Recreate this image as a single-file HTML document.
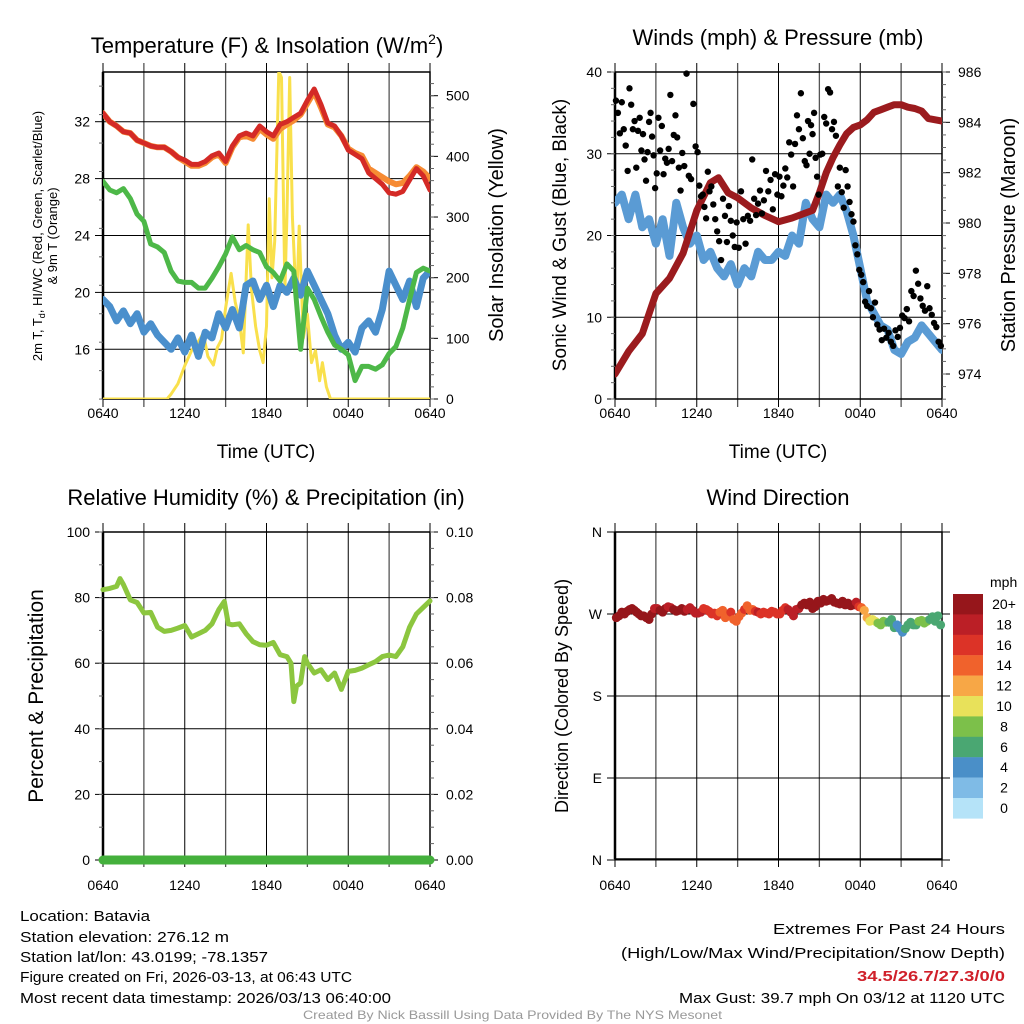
<!DOCTYPE html>
<html><head><meta charset="utf-8"><title>NYS Mesonet Batavia Meteogram</title>
<style>
html,body{margin:0;padding:0;background:#fff;}
svg{display:block;font-family:"Liberation Sans",sans-serif;}
</style></head>
<body>
<svg id="fig" width="1024" height="1024" viewBox="0 0 1024 1024" xmlns="http://www.w3.org/2000/svg">
<defs>
<clipPath id="c1"><rect x="103" y="72" width="327" height="327"/></clipPath>
<clipPath id="c2"><rect x="615" y="72" width="327" height="327"/></clipPath>
</defs>
<text x="267" y="53" font-size="22" text-anchor="middle">Temperature (F) &amp; Insolation (W/m<tspan dy="-9" font-size="14">2</tspan><tspan dy="9">)</tspan></text>
<text x="778" y="45" font-size="22" text-anchor="middle">Winds (mph) &amp; Pressure (mb)</text>
<text x="266" y="505" font-size="22" text-anchor="middle">Relative Humidity (%) &amp; Precipitation (in)</text>
<text x="778" y="505" font-size="22" text-anchor="middle">Wind Direction</text>
<text transform="translate(42,236) rotate(-90)" font-size="13" text-anchor="middle">2m T, T<tspan dy="3" font-size="9">d</tspan><tspan dy="-3">, HI/WC (Red, Green, Scarlet/Blue)</tspan></text>
<text transform="translate(57,236) rotate(-90)" font-size="13" text-anchor="middle">&amp; 9m T (Orange)</text>
<text transform="translate(503,235) rotate(-90)" font-size="20" text-anchor="middle">Solar Insolation (Yellow)</text>
<text transform="translate(566,235) rotate(-90)" font-size="19" text-anchor="middle">Sonic Wind &amp; Gust (Blue, Black)</text>
<text transform="translate(1015,235) rotate(-90)" font-size="20" text-anchor="middle">Station Pressure (Maroon)</text>
<text transform="translate(43,696) rotate(-90)" font-size="21" text-anchor="middle">Percent &amp; Precipitation</text>
<text transform="translate(568,696) rotate(-90)" font-size="18" text-anchor="middle">Direction (Colored By Speed)</text>
<text x="266" y="458" font-size="19" text-anchor="middle">Time (UTC)</text>
<text x="778" y="458" font-size="19" text-anchor="middle">Time (UTC)</text>
<g font-size="15">
<text x="20" y="921" textLength="130" lengthAdjust="spacingAndGlyphs">Location: Batavia</text>
<text x="20" y="942" textLength="209" lengthAdjust="spacingAndGlyphs">Station elevation: 276.12 m</text>
<text x="20" y="962" textLength="248" lengthAdjust="spacingAndGlyphs">Station lat/lon: 43.0199; -78.1357</text>
<text x="20" y="982" textLength="332" lengthAdjust="spacingAndGlyphs">Figure created on Fri, 2026-03-13, at 06:43 UTC</text>
<text x="20" y="1003" textLength="371" lengthAdjust="spacingAndGlyphs">Most recent data timestamp: 2026/03/13 06:40:00</text>
</g>
<g font-size="15">
<text x="773" y="934" textLength="232" lengthAdjust="spacingAndGlyphs">Extremes For Past 24 Hours</text>
<text x="621" y="958" textLength="384" lengthAdjust="spacingAndGlyphs">(High/Low/Max Wind/Precipitation/Snow Depth)</text>
<text x="857" y="981" textLength="148" lengthAdjust="spacingAndGlyphs" fill="#d0202a" font-weight="bold">34.5/26.7/27.3/0/0</text>
<text x="679" y="1003" textLength="326" lengthAdjust="spacingAndGlyphs">Max Gust: 39.7 mph On 03/12 at 1120 UTC</text>
</g>
<text x="303" y="1019" font-size="12" fill="#999" textLength="419" lengthAdjust="spacingAndGlyphs">Created By Nick Bassill Using Data Provided By The NYS Mesonet</text>
<g id="layer"></g>
</svg>
<script>
// ---- data ----
const xTickLabels = ["0640","1240","1840","0040","0640"];
const halfHours = [0,0.5,1,1.5,2,2.5,3,3.5,4,4.5,5,5.5,6,6.5,7,7.5,8,8.5,9,9.5,10,10.5,11,11.5,12,12.5,13,13.5,14,14.5,15,15.5,16,16.5,17,17.5,18,18.5,19,19.5,20,20.5,21,21.5,22,22.5,23,23.5,24];
const tempRed = [32.6,32.0,31.7,31.3,31.2,30.7,30.5,30.3,30.2,30.2,29.9,29.5,29.3,29.0,29.0,29.2,29.6,29.8,29.2,30.3,31.0,31.2,31.0,31.7,31.3,31.0,31.8,32.0,32.3,32.6,33.5,34.3,33.2,31.9,31.7,31.0,30.0,29.7,29.4,28.4,28.0,27.6,27.0,26.9,27.1,27.9,28.7,28.2,27.2];
const temp9m = [32.6,32.0,31.7,31.3,31.2,30.7,30.5,30.3,30.2,30.2,29.9,29.5,29.2,28.9,28.9,29.1,29.5,29.7,29.1,30.2,30.9,31.0,30.8,31.5,31.1,30.8,31.5,31.8,32.1,32.5,33.3,34.1,33.0,31.8,31.6,31.0,30.1,29.8,29.6,28.7,28.4,28.1,27.8,27.6,27.7,28.2,28.8,28.5,28.0];
const dewGreen = [27.8,27.2,27.0,27.3,26.6,25.5,25.0,23.4,23.2,22.8,21.5,20.8,20.7,20.7,20.3,20.3,21.0,21.8,22.7,23.9,23.0,23.3,23.0,22.8,21.8,21.4,20.8,22.0,21.5,16.0,20.3,19.5,18.3,17.2,16.3,16.0,15.6,13.8,14.8,14.8,14.6,14.9,15.7,16.2,17.5,19.5,21.4,21.7,21.5];
const windChill = [19.5,19.0,18.0,18.7,17.8,18.5,17.2,17.8,17.0,16.5,16.0,16.8,15.8,17.0,15.5,17.2,16.8,18.5,17.5,18.8,17.5,20.5,20.8,19.5,20.5,19.0,20.5,20.0,21.0,19.8,21.5,20.5,19.5,18.5,17.0,16.0,16.5,15.8,17.5,18.0,17.2,18.8,21.5,20.5,19.5,20.8,19.0,21.0,21.5];
const solarHours = [0,4.7,5,5.5,6,6.5,7,7.36,7.7,8.1,8.4,8.7,9.0,9.4,9.7,10,10.3,10.66,10.9,11.2,11.5,11.75,12,12.2,12.4,12.6,12.9,13.1,13.35,13.5,13.7,13.9,14.2,14.4,14.7,15,15.3,15.6,15.9,16.1,16.4,16.7,24];
const solarValues = [0,0,8,25,55,80,95,108,70,56,85,98,150,207,160,130,76,287,180,120,80,60,120,330,200,260,540,530,180,300,530,300,150,285,100,140,60,80,30,60,20,0,0];
const windSpeed = [24,25,22,25,21,22,19,22,17.5,24,21,19,20,17,18,16,15,16.5,14,16,15,18,17,17,18,17.5,20,19,24,22,21,25,24,25,23,20,16,12,10.5,9,8.5,6,5.5,7,7.5,9,8,7,6];
const pressureHours = [0,1,2,3,4,5,6,7,7.6,8.3,9,10,11,12,13,14,14.5,15,15.5,16,16.5,17,17.5,18,18.5,19,19.5,20,20.5,21,21.5,22,22.5,23,23.5,24];
const pressureValues = [974.0,974.9,975.6,977.2,977.8,978.8,980.5,981.6,981.8,981.2,981.0,980.6,980.3,980.05,980.2,980.4,980.5,981.2,982.0,982.6,983.1,983.55,983.8,983.9,984.1,984.4,984.5,984.6,984.7,984.7,984.6,984.55,984.45,984.15,984.1,984.05];
const gustByHour = [
 [36.5,35,32.5,36.3,33,31,27.9],[38,36,33,34,28.3,32.8,34.4,30.4],[32.4,29.3,26.7,30.2,33.9,35,32.1,29.8,25.8],
 [27.6,34.4,30.4,33.4,27.5,29.4,28.9,30.6],[37.2,29.1,32.3,34.7,32.0,28.3,25.5,30.1],[28.5,39.8,27.3,26.9,36.1,30.9],
 [30.2,26.1,24.8,25.0,23.5,22.1,27.8,25.4],[26.0,23.8,22.0,20.5,19.3,17.0,24.5],[22.4,19.2,23.6,21.8,20.0,18.6,21.6],
 [18.5,25.4,22.0,19.0,22.4,21.8],[29.3,24.5,22.5,23.9,25.5,22.7,24.3],[27.9,25.4,26.8,23.2,27.5,25.0],
 [27.2,24.8,26.1,28.2,27.1,31.4,29.9],[26.0,31.2,34.7,33.0,37.4,31.9,29.1],[28.6,34.0,30.0,33.5,32.4,35.0,29.5,27.2,25.0],
 [29.9,30.0,34.5,33.7,37.9,37.5,33.0],[33.9,32.2,26.0,28.3,25.3,23.4,28.0],[26.0,24.1,22.6,21.7,18.8,17.7,15.8],
 [15.2,14.3,11.9,11.4,13.2,11.1,10.0],[11.8,9.1,8.5,7.2,8.6,7.5],[8.1,7.0,6.5,8.4,7.6,8.7],
 [10.2,9.9,11.0,9.5,13.2,12.6],[15.7,14.1,12.3,11.4,10.8,13.8],[11.1,10.3,9.3,8.8,7.0,6.5]];
const rhHours = [0,0.5,1,1.25,1.5,2,2.5,3,3.5,4,4.5,5,5.5,6,6.5,7,7.5,8,8.5,8.9,9.2,9.5,10,10.5,11,11.5,12,12.5,13,13.5,13.8,14,14.2,14.5,14.8,15,15.5,16,16.5,17,17.5,18,18.5,19,19.5,20,20.5,21,21.5,22,22.5,23,23.5,24];
const rhValues = [82.4,82.8,83.4,85.8,84,79.3,78.5,75.3,75.5,71,69.7,70,70.7,71.5,68,69,70,72,76.3,78.8,72,71.7,72,69,66.6,65.6,65.5,66.3,62.6,62,60,48.3,53,54,62,60,57,58,55,57,52,57.5,57.8,58.5,59.5,60.5,62,62.5,62,65,71,75,77,79];
const precipHours = [0,24];
const precipValues = [0,0];
const dirByHour = [
 [266,268,272,270,273],[275,276,274,272,270,268],[268,266,264,270,276],[276,274,272,276,278],
 [277,275,273,274,276],[273,275,277,274,271],[271,272,276,275,273],[270,271,268,272,274],
 [266,269,272,264,262],[267,271,275,279,274],[275,273,272,270,272],[271,270,273,272,270],
 [270,274,277,275,272],[268,275,276,280,282],[280,283,276,278,284],[282,286,284,285,287],
 [283,282,281,284,280],[282,279,280,283,278],[277,274,266,262,264],[262,260,258,262,261],
 [261,264,255,258,254],[250,254,258,261,258],[258,262,263,260,262],[264,267,262,268,258]];
const speedBinLabels = ["20+","18","16","14","12","10","8","6","4","2","0"];
const speedBinColors = ["#96161b","#bb1f26","#dc3327","#f0622c","#f7a746","#e8e15a","#7cc04a","#4aa772","#4a8fc8","#7fbbe6","#b5e3f8"];
const dirLabels = ["N","E","S","W","N"];

// ---- helpers ----
const NS="http://www.w3.org/2000/svg";
const layer=document.getElementById('layer');
function el(tag,attrs,parent){const e=document.createElementNS(NS,tag);for(const k in attrs)e.setAttribute(k,attrs[k]);(parent||layer).appendChild(e);return e;}
function linScale(d0,d1,r0,r1){return v=>r0+(v-d0)*(r1-r0)/(d1-d0);}
function interp(xs,ys,t){for(let i=1;i<xs.length;i++){if(t<=xs[i]){const f=(t-xs[i-1])/(xs[i]-xs[i-1]);return ys[i-1]+f*(ys[i]-ys[i-1]);}}return ys[ys.length-1];}

function drawFrame(x0,y0,name,labOff){
  const g=el('g',{});
  
  
  const xs=linScale(0,24,x0,x0+327);
  for(let h=0;h<=24;h+=3){
    const x=xs(h);
    const gl=el('line',{x1:x,x2:x,y1:y0-9,y2:y0+335,stroke:(h%6===0)?'#000':'#555','stroke-width':(h%6===0)?1:1.3},g);
    
    
  }
  for(let i=0;i<xTickLabels.length;i++){
    const t=el('text',{x:xs(i*6),y:y0+labOff,'font-size':14,'text-anchor':'middle'},g);
    t.textContent=xTickLabels[i];
    
    
  }
  el('rect',{x:x0,y:y0,width:327,height:327,fill:'none',stroke:'#000','stroke-width':1.5},g);
  el('line',{x1:x0,x2:x0,y1:y0,y2:y0+327,stroke:'#000','stroke-width':2.5},g);
  return g;
}
function hAxis(g,x0,vals,scale,labels,side,grid,minorStep,range){
  const top=+g.getAttribute('data-top');
  vals.forEach((v,i)=>{
    const y=scale(v);
    if(grid) el('line',{x1:x0,x2:x0+327,y1:y,y2:y,stroke:'#000','stroke-width':1},g);
    if(side==='left'){
      el('line',{x1:x0-8,x2:x0,y1:y,y2:y,stroke:'#000'},g);
      const t=el('text',{x:x0-13,y:y+5,'font-size':14,'text-anchor':'end'},g);t.textContent=labels[i];
      
      
    }else{
      el('line',{x1:x0+327,x2:x0+335,y1:y,y2:y,stroke:'#000'},g);
      if(labels){const t=el('text',{x:x0+343,y:y+5,'font-size':14,'text-anchor':'start'},g);t.textContent=labels[i];
      
      }
    }
  });
  if(minorStep){
    for(let v=range[0];v<=range[1]+1e-9;v+=minorStep){
      const y=scale(v); if(y<top-0.5) continue;
      if(side==='left') el('line',{x1:x0-4,x2:x0,y1:y,y2:y,stroke:'#666'},g);
      else el('line',{x1:x0+327,x2:x0+331,y1:y,y2:y,stroke:'#666'},g);
    }
  }
}
function polyline(xs,ys,xScale,yScale,color,w,clip,name){
  const pts=xs.map((t,i)=>xScale(t).toFixed(1)+','+yScale(ys[i]).toFixed(1)).join(' ');
  const p=el('polyline',{points:pts,fill:'none',stroke:color,'stroke-width':w,'stroke-linejoin':'round','stroke-linecap':'round','clip-path':clip?'url(#'+clip+')':''});
  
  
  return p;
}

// ---- panel 1: temperature ----
{
  const g=drawFrame(103,72,'temperature',346);g.setAttribute('data-top',72);
  const xS=linScale(0,24,103,430);
  const yT=linScale(16,32,349.3,121.7);
  const yS=linScale(0,500,399,95.7);
  hAxis(g,103,[16,20,24,28,32],yT,["16","20","24","28","32"],'left',true,2,[12.5,35]);
  hAxis(g,103,[0,100,200,300,400,500],yS,["0","100","200","300","400","500"],'right',false,20,[0,539]);
  polyline(solarHours,solarValues,xS,yS,'#f9e04c',3,'c1','solar-insolation-line');
  polyline(halfHours,windChill,xS,yT,'#4a8fcc',7,'c1','wind-chill-line');
  polyline(halfHours,dewGreen,xS,yT,'#4db848',5,'c1','dewpoint-line');
  polyline(halfHours,temp9m,xS,yT,'#f68b33',6,'c1','temp-9m-line');
  polyline(halfHours,tempRed,xS,yT,'#d42a26',5,'c1','temp-2m-line');
}
// ---- panel 2: winds ----
{
  const g=drawFrame(615,72,'winds',346);g.setAttribute('data-top',72);
  const xS=linScale(0,24,615,942);
  const yW=linScale(0,40,399,72);
  const yP=linScale(974,986,374,72);
  hAxis(g,615,[0,10,20,30,40],yW,["0","10","20","30","40"],'left',true,2,[0,40]);
  hAxis(g,615,[974,976,978,980,982,984,986],yP,["974","976","978","980","982","984","986"],'right',false,0.5,[973,986]);
  polyline(halfHours,windSpeed,xS,yW,'#5a9bd4',8,'c2','wind-speed-line');
  polyline(pressureHours,pressureValues,xS,yP,'#9b1b1e',7,'c2','pressure-line');
  gustByHour.forEach((arr,h)=>{arr.forEach((v,j)=>{
    const t=h+(j+0.5)/arr.length;
    const c=el('circle',{cx:xS(t),cy:yW(v),r:3.2,fill:'#000'});
    
    
  });});
}
// ---- panel 3: humidity ----
{
  const g=drawFrame(103,532,'humidity',358);g.setAttribute('data-top',532);
  const xS=linScale(0,24,103,430);
  const yR=linScale(0,100,860,532);
  const yPr=linScale(0,0.1,860,532);
  hAxis(g,103,[0,20,40,60,80,100],yR,["0","20","40","60","80","100"],'left',true,10,[0,100]);
  hAxis(g,103,[0,0.02,0.04,0.06,0.08,0.1],yPr,["0.00","0.02","0.04","0.06","0.08","0.10"],'right',false,0.005,[0,0.1]);
  polyline(rhHours,rhValues,xS,yR,'#8cc63f',5,null,'relative-humidity-line');
  const pl=polyline(precipHours,precipValues,xS,yPr,'#44b03c',9,null,'precipitation-line');
}
// ---- panel 4: wind direction ----
{
  const g=drawFrame(615,532,'wind-direction',358);g.setAttribute('data-top',532);
  const xS=linScale(0,24,615,942);
  const yD=linScale(0,360,860,532);
  hAxis(g,615,[0,90,180,270,360],yD,dirLabels,'left',true,0,null);
  [0,90,180,270,360].forEach(v=>el('line',{x1:942,x2:950,y1:yD(v),y2:yD(v),stroke:'#000'},g));
  function colorFor(s){let idx=10-Math.min(10,Math.floor(s/2));return speedBinColors[idx];}
  dirByHour.forEach((arr,h)=>{arr.forEach((d,j)=>{
    const t=h+(j+0.5)/arr.length;
    const s=interp(halfHours,windSpeed,t);
    const c=el('circle',{cx:xS(t),cy:yD(d),r:4.5,fill:colorFor(s)});
    
    
  });});
  const lg=el('g',{});
  
  
  const t0=el('text',{x:990,y:587,'font-size':14},lg);t0.textContent='mph';
  speedBinColors.forEach((c,i)=>{
    const y=594+i*20.4;
    const r=el('rect',{x:953,y:y,width:30,height:20.6,fill:c},lg);
    
    
    const t=el('text',{x:1004,y:y+15,'font-size':14,'text-anchor':'middle'},lg);
    t.textContent=speedBinLabels[i];
  });
}
</script>
</body></html>
